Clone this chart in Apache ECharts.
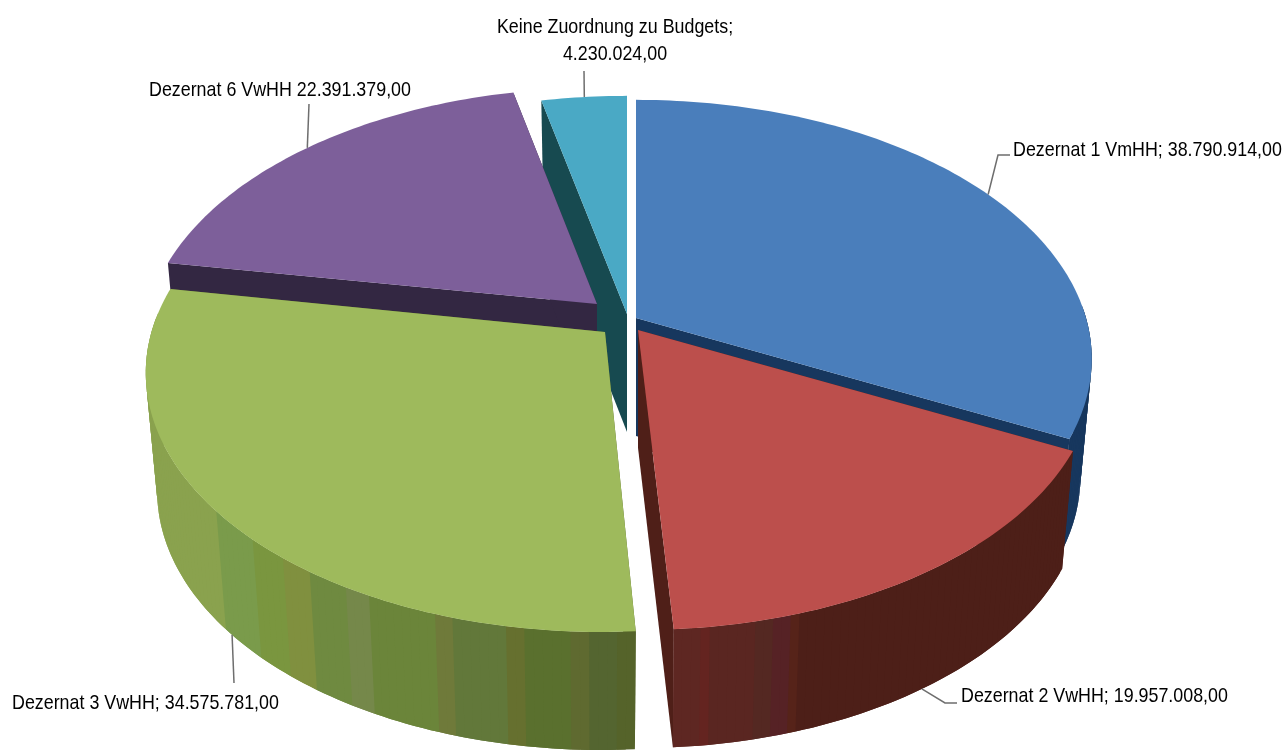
<!DOCTYPE html>
<html>
<head>
<meta charset="utf-8">
<style>html,body{margin:0;padding:0;background:#fff}#c{width:1285px;height:751px}</style>
<script src="https://cdn.jsdelivr.net/npm/echarts@6/dist/echarts.min.js"></script>
</head>
<body>
<div id="c"></div>
<script>
const categories = ['Dezernat 1 VmHH', 'Dezernat 2 VwHH', 'Dezernat 3 VwHH', 'Dezernat 6 VwHH', 'Keine Zuordnung zu Budgets'];
const values = [38790914, 19957008, 34575781, 22391379, 4230024];
const valueLabels = ['38.790.914,00', '19.957.008,00', '34.575.781,00', '22.391.379,00', '4.230.024,00'];

const topColors = ['#4a7ebb', '#bc4f4c', '#9eba5c', '#7d5f9a', '#4aa9c5'];
const cutColors = ['#17375e', '#4f1f18', '#55632a', '#332742', '#174a50'];
// rim shading bands: [until angle, colour]
const rimBands = [
  [[360, '#17375e']],
  [[162, '#4d1f18'], [163, '#562319'], [165.5, '#562225'], [167, '#542822'], [172, '#5a2621'], [173, '#642420'], [180, '#5e2722']],
  [[178, '#55632a'], [181, '#546530'], [183, '#5f6a30'], [188, '#5a702e'], [190, '#66702f'], [196, '#62783a'], [198, '#6f7a3a'], [206, '#6b853a'], [209, '#75884a'], [214, '#6f8a40'], [218, '#80903f'], [223, '#7a963f'], [230, '#7a9b4b'], [290, '#8aa24e']],
  [[360, '#332742']],
  [[360, '#174a50']]
];
// layout of each exploded slice and drawing order (back to front)
const centers = [[636, 318], [639.5, 330], [601.5, 332], [599, 306], [627, 314]];
const apexes = [[636, 318], [638, 330], [605, 332], [597, 304], [627, 314]];
const paintOrder = [4, 3, 0, 2, 1];
const RX = 450, RY = 252.6, PERSP = 0.158, DEPTH = 118, BOTTOM_SCALE = 0.975;

// leader lines and labels
const leaderAngle = [58, 146, 229, 314, 353.7];
const leaderOnBottom = [false, true, true, false, false];
const leaderPath = [
  [[998, 155], [1010, 155]],
  [[945, 703], [957, 703]],
  [[234, 683]],
  [[309, 104]],
  [[584, 71]]
];
const labelText = [
  categories[0] + '; ' + valueLabels[0],
  categories[1] + '; ' + valueLabels[1],
  categories[2] + '; ' + valueLabels[2],
  categories[3] + ' ' + valueLabels[3],
  categories[4] + ';\n' + valueLabels[4]
];
const labelPos = [[1013, 150, 'left'], [961, 696, 'left'], [12, 703, 'left'], [149, 90, 'left'], [615, 41, 'center']];

const LABEL_FONT = '21px "Liberation Sans", sans-serif';
const LABEL_SCALE = 0.85;
const total = values.reduce((a, b) => a + b, 0);

function ring(c, deg) {
  const a = deg * Math.PI / 180, u = Math.sin(a), v = Math.cos(a), s = 1 / (1 + PERSP * v);
  return [c[0] + RX * u * s, c[1] - RY * v * s];
}
function drop(c, p) {
  return [c[0] + (p[0] - c[0]) * BOTTOM_SCALE, p[1] + DEPTH];
}
function bandColor(bands, deg) {
  for (const b of bands) if (deg < b[0]) return b[1];
  return bands[bands.length - 1][1];
}

function renderSlice(params, api) {
  const i = params.dataIndex;
  let start = 0;
  for (let k = 0; k < i; k++) start += values[k] / total * 360;
  const end = start + api.value(0) / total * 360;
  const c = centers[i];
  const z = paintOrder.indexOf(i) * 1000 + 10;
  const children = [];
  const apex = apexes[i];
  const apexB = drop(c, apex);

  // cut faces
  [start, end].forEach((deg, n) => {
    const p = ring(c, deg);
    children.push({
      type: 'polygon', silent: true, z2: z + n,
      shape: { points: [apex, p, drop(c, p), apexB] },
      style: { fill: cutColors[i] }
    });
  });

  // outer rim: each quad overlaps the next one so no seams show
  let order = 0;
  for (let d = start; d < end; d += 1) {
    const e = Math.min(d + 2, end);
    if (Math.cos(Math.min(d + 1, end) * Math.PI / 180) > 0.05 && Math.cos(d * Math.PI / 180) > 0.05) continue;
    const p = ring(c, d), m = ring(c, (d + e) / 2), q = ring(c, e);
    children.push({
      type: 'polygon', silent: true, z2: z + 5 + (order++),
      shape: { points: [p, m, q, drop(c, q), drop(c, m), drop(c, p)] },
      style: { fill: bandColor(rimBands[i], d + 0.5) }
    });
  }

  // top face
  const pts = [apex];
  for (let d = start; d < end; d += 1) pts.push(ring(c, d));
  pts.push(ring(c, end));
  children.push({
    type: 'polygon', silent: true, z2: z + 500,
    shape: { points: pts },
    style: { fill: topColors[i] }
  });

  // leader
  let anchor = ring(c, leaderAngle[i]);
  if (leaderOnBottom[i]) anchor = drop(c, anchor);
  children.push({
    type: 'polyline', silent: true, z2: 9000,
    shape: { points: [anchor].concat(leaderPath[i]) },
    style: { stroke: '#6e6e6e', lineWidth: 1.5, fill: null }
  });

  // label
  children.push({
    type: 'text', silent: true, z2: 9001,
    x: labelPos[i][0], y: labelPos[i][1], scaleX: LABEL_SCALE,
    style: {
      text: labelText[i], x: 0, y: 0,
      align: labelPos[i][2], verticalAlign: 'middle',
      font: LABEL_FONT, fill: '#000', lineHeight: 27
    }
  });
  return { type: 'group', children };
}

const chart = echarts.init(document.getElementById('c'), null, { renderer: 'canvas' });
chart.setOption({
  backgroundColor: '#ffffff',
  animation: false,
  series: [{
    type: 'custom',
    coordinateSystem: 'none',
    clip: false,
    renderItem: renderSlice,
    data: values.map((v, i) => ({ name: categories[i], value: [v] }))
  }]
});
</script>
</body>
</html>
